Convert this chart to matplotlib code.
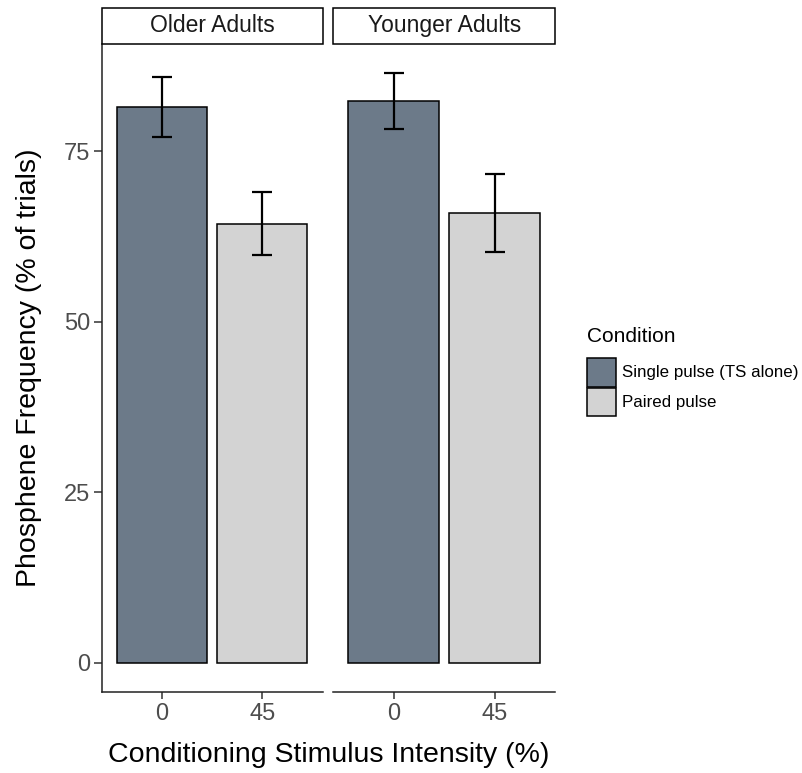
import matplotlib
matplotlib.use("Agg")
import matplotlib.pyplot as plt
from matplotlib.patches import Rectangle
import numpy as np

plt.rcParams['font.family'] = ['Liberation Sans', 'DejaVu Sans']

groups = ["Older Adults", "Younger Adults"]
intensities = ["0", "45"]
conditions = ["Single pulse (TS alone)", "Paired pulse"]
colors = ["#6C7A89", "#D3D3D3"]
means = {"Older Adults": [81.5, 64.4], "Younger Adults": [82.45, 65.9]}
err_low = {"Older Adults": [77.1, 59.8], "Younger Adults": [78.3, 60.2]}
err_high = {"Older Adults": [85.9, 69.0], "Younger Adults": [86.5, 71.7]}
yticks = [0, 25, 50, 75]

W, H = 802, 773
fig = plt.figure(figsize=(W / 100, H / 100), dpi=100)

def fx(px):
    return px / W

def fy(py):
    return 1 - py / H

panel_top, panel_bot = 43.5, 692
panels = [(101.7, 322.5), (333.3, 555.0)]
strip_top, strip_bot = 8, 43.5

ymax = max(max(v) for v in err_high.values())
ylim = (-0.05 * ymax, ymax * 1.05)
lw = 1.1
for i, (g, (l, r)) in enumerate(zip(groups, panels)):
    ax = fig.add_axes([fx(l), fy(panel_bot), fx(r - l), (panel_bot - panel_top) / H])
    x = np.arange(1, len(intensities) + 1)
    ax.bar(x, means[g], width=0.9, color=colors, edgecolor="black", linewidth=lw, zorder=2)
    m = np.array(means[g])
    lo = m - np.array(err_low[g])
    hi = np.array(err_high[g]) - m
    ax.errorbar(x, m, yerr=[lo, hi], fmt="none", ecolor="black", elinewidth=1.6,
                capsize=7.2, capthick=1.6, zorder=3)
    ax.set_xlim(0.4, 2.6)
    ax.set_ylim(*ylim)
    ax.set_xticks(x)
    ax.set_xticklabels(intensities, fontsize=17, color="#4D4D4D")
    for s in ["top", "right"]:
        ax.spines[s].set_visible(False)
    ax.spines["bottom"].set_linewidth(lw)
    ax.spines["bottom"].set_color("#222222")
    ax.tick_params(axis="x", length=5, width=lw, color="#333333", pad=3)
    if i == 0:
        ax.spines["left"].set_linewidth(lw)
        ax.spines["left"].set_color("#222222")
        ax.set_yticks(yticks)
        ax.set_yticklabels([str(t) for t in yticks], fontsize=17, color="#4D4D4D")
        ax.tick_params(axis="y", length=6, width=lw, color="#333333", pad=2)
    else:
        ax.spines["left"].set_visible(False)
        ax.set_yticks([])
    ax.patch.set_alpha(0)
    # strip
    rect = Rectangle((fx(l), fy(strip_bot)), fx(r - l), (strip_bot - strip_top) / H,
                     transform=fig.transFigure, facecolor="white", edgecolor="black",
                     linewidth=lw)
    fig.patches.append(rect)
    fig.text(fx((l + r) / 2), fy((strip_top + strip_bot) / 2), g, ha="center", va="center",
             fontsize=16.5, color="#1A1A1A")

fig.text(fx((panels[0][0] + panels[1][1]) / 2), fy(755), "Conditioning Stimulus Intensity (%)",
         ha="center", va="center", fontsize=20.5)
fig.text(fx(29), fy((panel_top + panel_bot) / 2), "Phosphene Frequency (% of trials)",
         ha="center", va="center", rotation=90, fontsize=20.5)

# legend
fig.text(fx(587), fy(337), "Condition", ha="left", va="center", fontsize=15)
for k, (c, col) in enumerate(zip(conditions, colors)):
    top = 358 + k * 30
    rect = Rectangle((fx(587), fy(top + 28.5)), fx(28.5), 28.5 / H, transform=fig.transFigure,
                     facecolor=col, edgecolor="black", linewidth=lw)
    fig.patches.append(rect)
    fig.text(fx(622), fy(top + 14), c, ha="left", va="center", fontsize=12.2)

fig.savefig("out.png", dpi=100)
